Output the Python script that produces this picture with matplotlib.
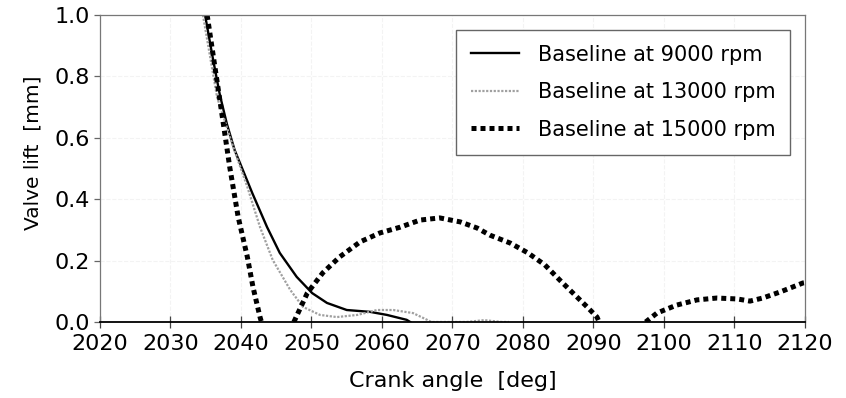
import matplotlib
matplotlib.use("Agg")
import matplotlib.pyplot as plt

plt.rcParams['font.family'] = ['DejaVu Sans']

# valve lift traces, crank angle [deg] vs lift [mm]
ang_9000 = [2034.9, 2036.0, 2037.0, 2038.0, 2039.1, 2041.6, 2043.7, 2045.5,
            2047.9, 2050.1, 2052.2, 2055.0, 2058.3, 2060.7, 2063.5, 2064.0]
lift_9000 = [1.0, 0.86, 0.74, 0.645, 0.560, 0.420, 0.309, 0.225,
             0.147, 0.094, 0.062, 0.039, 0.033, 0.023, 0.007, 0.0]

ang_13000 = [2034.6, 2036.6, 2038.9, 2040.9, 2042.7, 2044.5, 2047.0, 2048.8,
             2051.2, 2053.6, 2056.5, 2059.3, 2061.6, 2064.4, 2066.4, 2067.0,
             2072.0, 2074.5, 2077.0, 2078.0]
lift_13000 = [1.0, 0.733, 0.570, 0.440, 0.309, 0.202, 0.104, 0.049,
              0.023, 0.016, 0.023, 0.039, 0.039, 0.029, 0.007, 0.0,
              0.0, 0.006, 0.0, 0.0]

ang_15000_a = [2035.2, 2037.0, 2038.4, 2039.6, 2040.9, 2041.7, 2042.7, 2042.9]
lift_15000_a = [1.0, 0.723, 0.505, 0.342, 0.212, 0.114, 0.016, 0.0]

ang_15000_b = [2047.5, 2049.4, 2051.6, 2054.0, 2056.9, 2059.7, 2062.6, 2065.4,
               2068.2, 2071.1, 2073.5, 2075.3, 2078.2, 2080.7, 2083.1, 2085.2,
               2087.1, 2089.1, 2090.5, 2090.8]
lift_15000_b = [0.0, 0.094, 0.160, 0.212, 0.261, 0.290, 0.309, 0.332,
                0.339, 0.326, 0.306, 0.283, 0.257, 0.225, 0.186, 0.137,
                0.094, 0.049, 0.016, 0.0]

ang_15000_c = [2097.4, 2099.0, 2101.8, 2104.7, 2107.5, 2110.4, 2112.2, 2114.0,
               2116.5, 2119.7, 2120.0]
lift_15000_c = [0.0, 0.029, 0.055, 0.072, 0.078, 0.075, 0.068, 0.078,
                0.098, 0.127, 0.128]

labels = ["Baseline at 9000 rpm", "Baseline at 13000 rpm", "Baseline at 15000 rpm"]

fig = plt.figure(figsize=(8.46, 3.98), dpi=100)
ax = fig.add_axes([0.1182, 0.191, 0.8333, 0.7713])

ax.plot(ang_9000, lift_9000, color="black", lw=1.7, label=labels[0])
ax.plot(ang_13000, lift_13000, color="#a0a0a0", lw=1.6,
        linestyle=(0, (1, 0.7)), label=labels[1])
sq = dict(color="black", lw=3.6, linestyle=(0, (1, 0.8)),
          dash_capstyle="butt", solid_capstyle="butt")
ax.plot(ang_15000_a, lift_15000_a, label=labels[2], **sq)
ax.plot(ang_15000_b, lift_15000_b, **sq)
ax.plot(ang_15000_c, lift_15000_c, **sq)

ax.set_xlim(2020, 2120)
ax.set_ylim(0.0, 1.0)
ax.set_xticks(range(2020, 2121, 10))
ax.set_yticks([0.0, 0.2, 0.4, 0.6, 0.8, 1.0])
ax.set_yticklabels(["0.0", "0.2", "0.4", "0.6", "0.8", "1.0"])

ax.grid(True, color="#f3f3f3", lw=0.8, ls="--")
ax.set_axisbelow(True)

for side in ["top", "right", "left"]:
    ax.spines[side].set_color("#777777")
    ax.spines[side].set_linewidth(0.9)
ax.spines["bottom"].set_color("black")
ax.spines["bottom"].set_linewidth(1.3)

ax.tick_params(axis="x", direction="inout", length=8, width=0.9,
               labelsize=16, pad=5, color="#444444")
ax.tick_params(axis="y", direction="out", length=4, width=0.9,
               labelsize=16, pad=3, color="#666666")

ax.set_xlabel("Crank angle  [deg]", fontsize=16, labelpad=12)
ax.set_ylabel("Valve lift  [mm]", fontsize=14.5)
ax.yaxis.set_label_coords(-0.082, 0.55)

leg = ax.legend(loc="upper right", fontsize=15, frameon=True, fancybox=False,
                edgecolor="#666666", framealpha=1, handlelength=2.3,
                handletextpad=0.9, labelspacing=0.84, borderpad=0.72,
                borderaxespad=0.7)
leg.get_frame().set_linewidth(1.0)

fig.savefig("out.png", dpi=100)
